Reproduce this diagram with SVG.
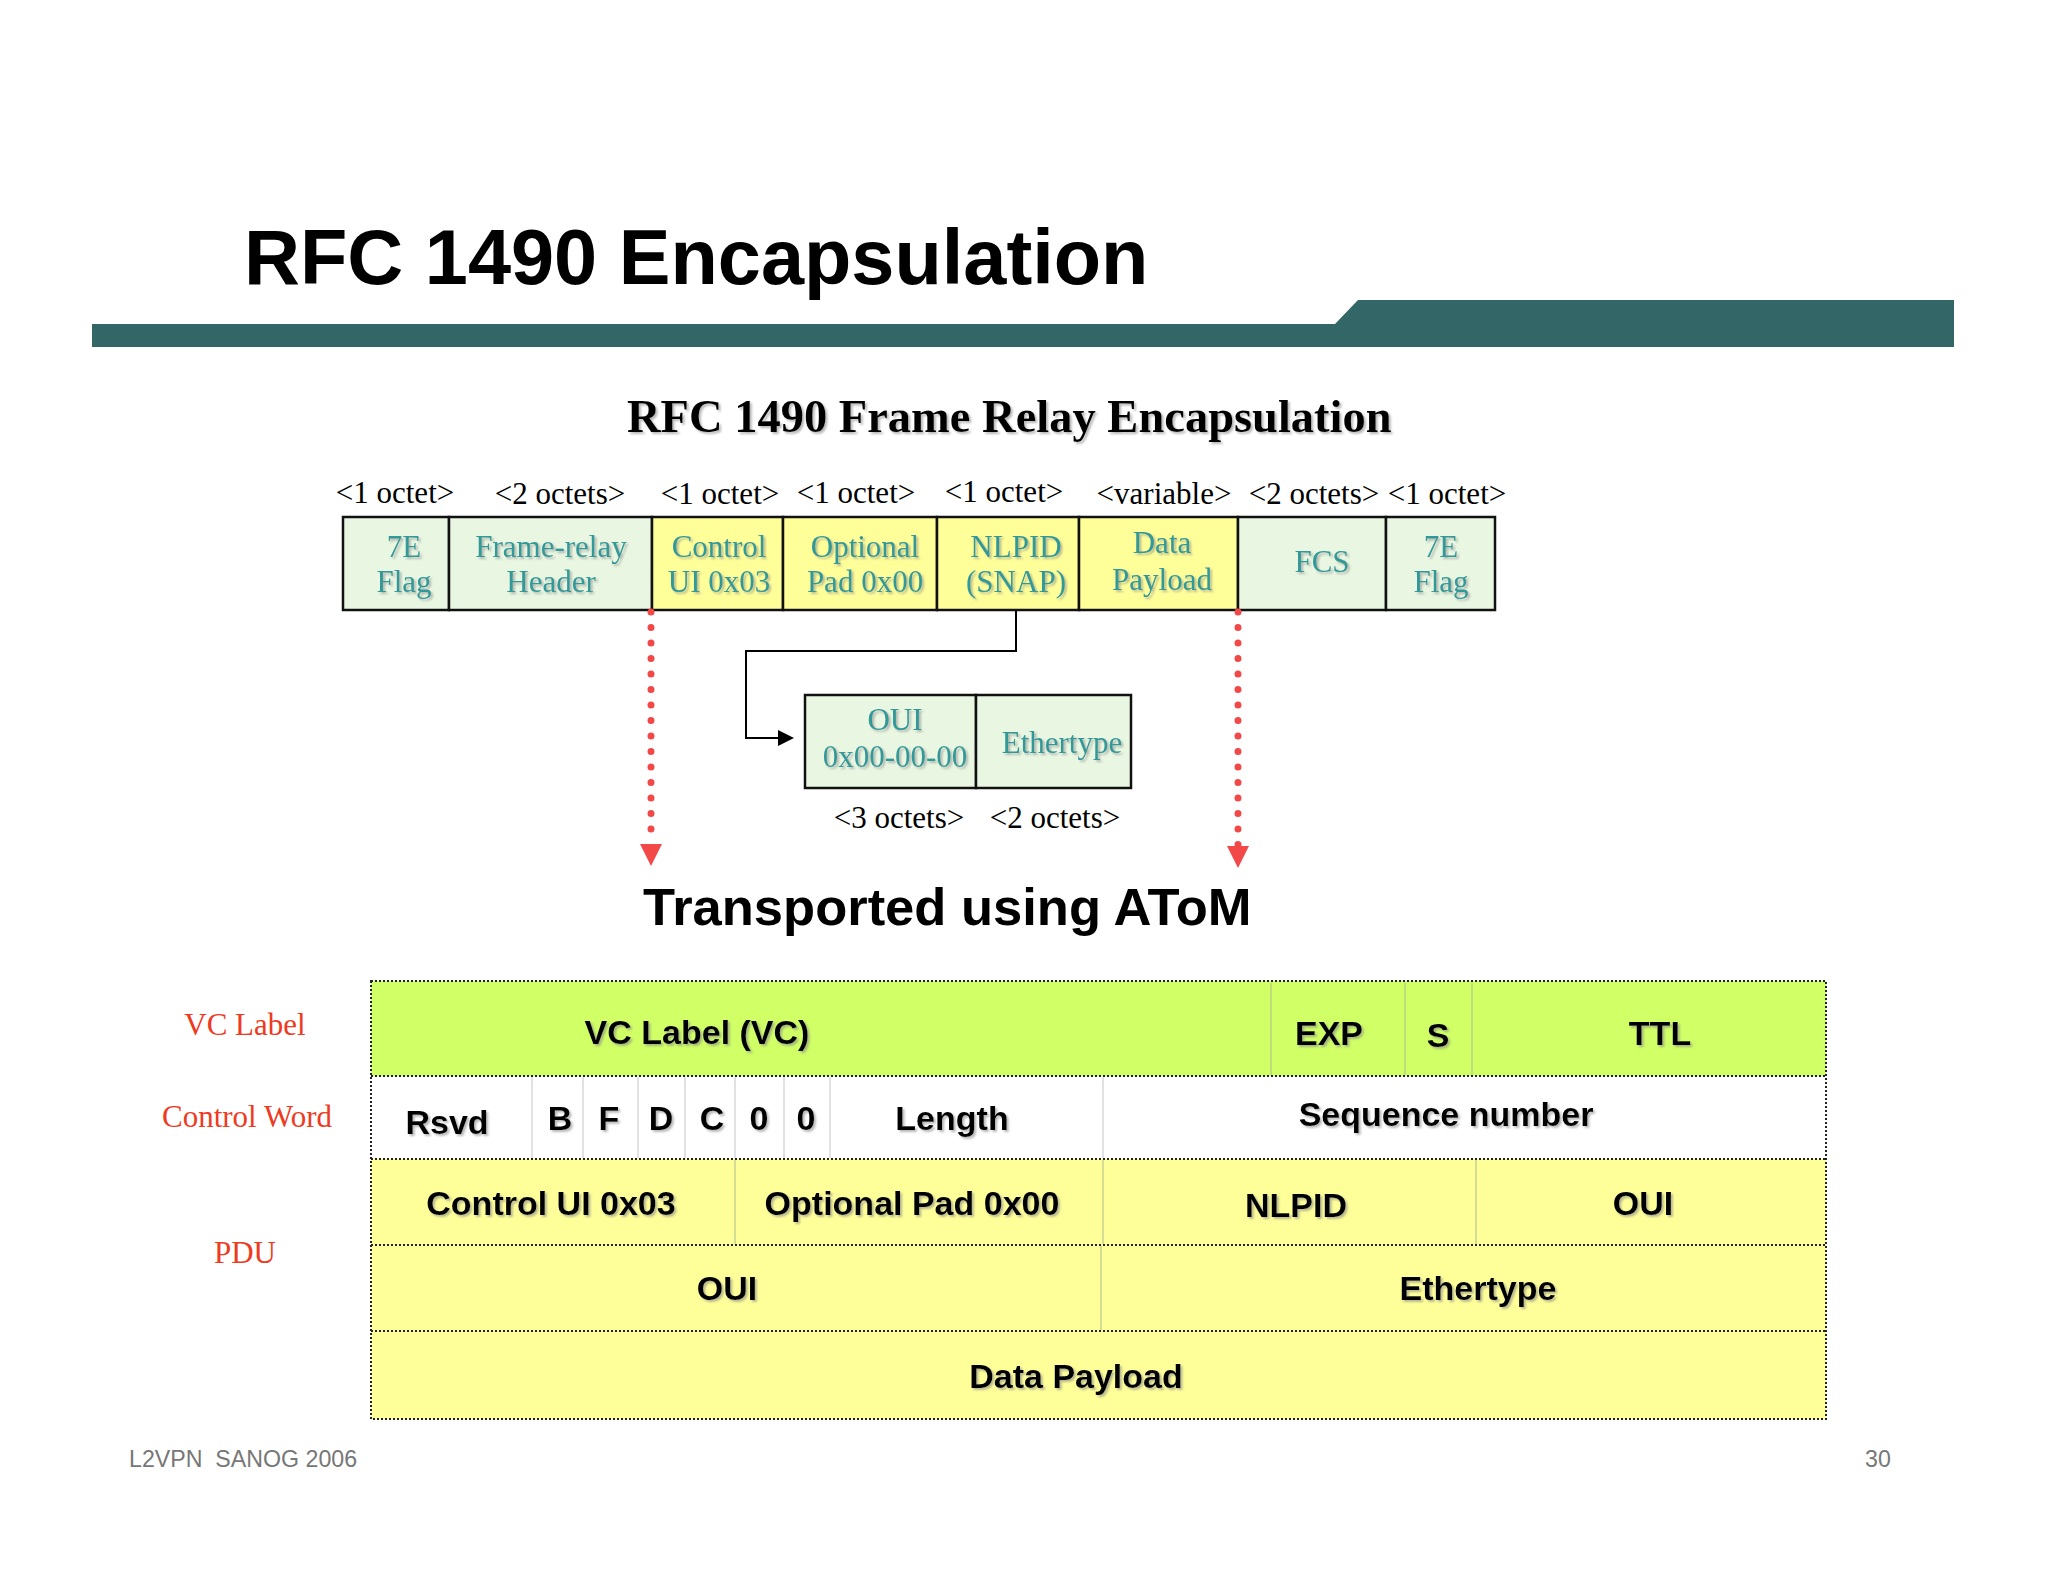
<svg xmlns="http://www.w3.org/2000/svg" width="2048" height="1582" viewBox="0 0 2048 1582">
<style>
.title{font-family:"Liberation Sans",Arial,sans-serif;font-weight:bold;font-size:77.5px;fill:#000}
.sub{font-family:"Liberation Serif","Times New Roman",serif;font-weight:bold;font-size:46.5px;fill:#000}
.oct{font-family:"Liberation Serif","Times New Roman",serif;font-size:31px;fill:#000;text-anchor:middle}
.cell{font-family:"Liberation Serif","Times New Roman",serif;font-size:31px;fill:#339999;text-anchor:middle}
.box{stroke:#111;stroke-width:2.5}
.green{fill:#e9f7e2}
.yellow{fill:#ffff99}
.lime{fill:#d0ff66}
.tbl{font-family:"Liberation Sans",Arial,sans-serif;font-weight:bold;font-size:34px;fill:#000;text-anchor:middle}
.side{font-family:"Liberation Serif","Times New Roman",serif;font-size:31px;fill:#ee3a1e;text-anchor:middle}
.big{font-family:"Liberation Sans",Arial,sans-serif;font-weight:bold;font-size:52.5px;fill:#000}
.foot{font-family:"Liberation Sans",Arial,sans-serif;font-size:23.2px;fill:#777;white-space:pre}
.rowb{stroke:#222;stroke-width:2;stroke-dasharray:2 2;fill:none}
.div1{stroke:#b8c890;stroke-width:1.2}
.div2{stroke:#cfcfcf;stroke-width:1.2}
.red{stroke:#f24848;stroke-width:7;stroke-linecap:round;stroke-dasharray:0 15.5;fill:none}
.conn{stroke:#000;stroke-width:2;fill:none}
</style>
<defs>
<filter id="sh" x="-10%" y="-20%" width="130%" height="150%">
<feDropShadow dx="2" dy="2" stdDeviation="0.8" flood-color="#888" flood-opacity="0.6"/>
</filter>
<marker id="redArrow" markerUnits="userSpaceOnUse" markerWidth="22" markerHeight="22" refX="0" refY="11" orient="auto">
<path d="M0,0 L22,11 L0,22 z" fill="#f24848"/>
</marker>
<marker id="blkArrow" markerUnits="userSpaceOnUse" markerWidth="16" markerHeight="16" refX="0" refY="8" orient="auto">
<path d="M0,0 L16,8 L0,16 z" fill="#000"/>
</marker>
</defs>
<rect width="2048" height="1582" fill="#ffffff"/>

<g id="header">
<text class="title" x="244" y="284">RFC 1490 Encapsulation</text>
<path d="M92,324 H1335 L1358,300 H1954 V347 H92 Z" fill="#336666"/>
</g>

<g id="subtitle">
<text class="sub" x="627" y="432" filter="url(#sh)">RFC 1490 Frame Relay Encapsulation</text>
</g>

<g id="octet-labels">
<text class="oct" x="395" y="503">&lt;1 octet&gt;</text>
<text class="oct" x="560" y="504">&lt;2 octets&gt;</text>
<text class="oct" x="720" y="504">&lt;1 octet&gt;</text>
<text class="oct" x="856" y="503">&lt;1 octet&gt;</text>
<text class="oct" x="1004" y="502">&lt;1 octet&gt;</text>
<text class="oct" x="1164" y="504">&lt;variable&gt;</text>
<text class="oct" x="1314" y="504">&lt;2 octets&gt;</text>
<text class="oct" x="1447" y="504">&lt;1 octet&gt;</text>
</g>

<g id="fr-flag1">
<rect class="box green" x="343" y="517" width="106" height="93"/>
<text class="cell" x="404" y="557" filter="url(#sh)">7E</text>
<text class="cell" x="404" y="592" filter="url(#sh)">Flag</text>
</g>
<g id="fr-header">
<rect class="box green" x="449" y="517" width="203" height="93"/>
<text class="cell" x="551" y="557" filter="url(#sh)">Frame-relay</text>
<text class="cell" x="551" y="592" filter="url(#sh)">Header</text>
</g>
<g id="fr-control">
<rect class="box yellow" x="652" y="517" width="131" height="93"/>
<text class="cell" x="719" y="557" filter="url(#sh)">Control</text>
<text class="cell" x="719" y="592" filter="url(#sh)">UI 0x03</text>
</g>
<g id="fr-pad">
<rect class="box yellow" x="783" y="517" width="154" height="93"/>
<text class="cell" x="865" y="557" filter="url(#sh)">Optional</text>
<text class="cell" x="865" y="592" filter="url(#sh)">Pad 0x00</text>
</g>
<g id="fr-nlpid">
<rect class="box yellow" x="937" y="517" width="142" height="93"/>
<text class="cell" x="1016" y="557" filter="url(#sh)">NLPID</text>
<text class="cell" x="1016" y="592" filter="url(#sh)">(SNAP)</text>
</g>
<g id="fr-payload">
<rect class="box yellow" x="1079" y="517" width="159" height="93"/>
<text class="cell" x="1162" y="553" filter="url(#sh)">Data</text>
<text class="cell" x="1162" y="590" filter="url(#sh)">Payload</text>
</g>
<g id="fr-fcs">
<rect class="box green" x="1238" y="517" width="148" height="93"/>
<text class="cell" x="1322" y="572" filter="url(#sh)">FCS</text>
</g>
<g id="fr-flag2">
<rect class="box green" x="1386" y="517" width="109" height="93"/>
<text class="cell" x="1441" y="557" filter="url(#sh)">7E</text>
<text class="cell" x="1441" y="592" filter="url(#sh)">Flag</text>
</g>

<g id="snap-oui">
<rect class="box green" x="805" y="695" width="171" height="93"/>
<text class="cell" x="895" y="730" filter="url(#sh)">OUI</text>
<text class="cell" x="895" y="767" filter="url(#sh)">0x00-00-00</text>
</g>
<g id="snap-ethertype">
<rect class="box green" x="976" y="695" width="155" height="93"/>
<text class="cell" x="1062" y="753" filter="url(#sh)">Ethertype</text>
</g>
<g id="snap-labels">
<text class="oct" x="899" y="828">&lt;3 octets&gt;</text>
<text class="oct" x="1055" y="828">&lt;2 octets&gt;</text>
</g>

<g id="connectors">
<path class="red" d="M651,612 V843"/>
<path d="M651,843 V844" stroke="none" fill="none" marker-end="url(#redArrow)"/>
<path class="red" d="M1238,612 V845"/>
<path d="M1238,845 V846" stroke="none" fill="none" marker-end="url(#redArrow)"/>
<path class="conn" d="M1016,610 V651 H746 V738 H778" marker-end="url(#blkArrow)"/>
</g>

<g id="transported">
<text class="big" x="643" y="925">Transported using AToM</text>
</g>

<g id="side-labels">
<text class="side" x="245" y="1035">VC Label</text>
<text class="side" x="247" y="1127">Control Word</text>
<text class="side" x="245" y="1263">PDU</text>
</g>

<g id="row-vc-label">
<rect class="lime" x="371" y="981" width="1455" height="95"/>
<line class="div1" x1="1271" y1="983" x2="1271" y2="1075"/>
<line class="div1" x1="1405" y1="983" x2="1405" y2="1075"/>
<line class="div1" x1="1472" y1="983" x2="1472" y2="1075"/>
<text class="tbl" x="697" y="1044" filter="url(#sh)">VC Label (VC)</text>
<text class="tbl" x="1329" y="1045" filter="url(#sh)">EXP</text>
<text class="tbl" x="1438" y="1047" filter="url(#sh)">S</text>
<text class="tbl" x="1660" y="1045" filter="url(#sh)">TTL</text>
</g>

<g id="row-control-word">
<rect x="371" y="1076" width="1455" height="83" fill="#ffffff"/>
<line class="div2" x1="532" y1="1077" x2="532" y2="1158"/>
<line class="div2" x1="583" y1="1077" x2="583" y2="1158"/>
<line class="div2" x1="638" y1="1077" x2="638" y2="1158"/>
<line class="div2" x1="685" y1="1077" x2="685" y2="1158"/>
<line class="div2" x1="735" y1="1077" x2="735" y2="1158"/>
<line class="div2" x1="784" y1="1077" x2="784" y2="1158"/>
<line class="div2" x1="830" y1="1077" x2="830" y2="1158"/>
<line class="div2" x1="1103" y1="1077" x2="1103" y2="1158"/>
<text class="tbl" x="447" y="1134" filter="url(#sh)">Rsvd</text>
<text class="tbl" x="560" y="1130" filter="url(#sh)">B</text>
<text class="tbl" x="609" y="1130" filter="url(#sh)">F</text>
<text class="tbl" x="661" y="1130" filter="url(#sh)">D</text>
<text class="tbl" x="712" y="1130" filter="url(#sh)">C</text>
<text class="tbl" x="759" y="1130" filter="url(#sh)">0</text>
<text class="tbl" x="806" y="1130" filter="url(#sh)">0</text>
<text class="tbl" x="952" y="1130" filter="url(#sh)">Length</text>
<text class="tbl" x="1446" y="1126" filter="url(#sh)">Sequence number</text>
</g>

<g id="row-pdu-1">
<rect class="yellow" x="371" y="1159" width="1455" height="86"/>
<line class="div1" x1="735" y1="1160" x2="735" y2="1244"/>
<line class="div1" x1="1103" y1="1160" x2="1103" y2="1244"/>
<line class="div1" x1="1476" y1="1160" x2="1476" y2="1244"/>
<text class="tbl" x="551" y="1215" filter="url(#sh)">Control UI 0x03</text>
<text class="tbl" x="912" y="1215" filter="url(#sh)">Optional Pad 0x00</text>
<text class="tbl" x="1296" y="1217" filter="url(#sh)">NLPID</text>
<text class="tbl" x="1643" y="1215" filter="url(#sh)">OUI</text>
</g>

<g id="row-pdu-2">
<rect class="yellow" x="371" y="1245" width="1455" height="86"/>
<line class="div1" x1="1101" y1="1246" x2="1101" y2="1330"/>
<text class="tbl" x="727" y="1300" filter="url(#sh)">OUI</text>
<text class="tbl" x="1478" y="1300" filter="url(#sh)">Ethertype</text>
</g>

<g id="row-pdu-3">
<rect class="yellow" x="371" y="1331" width="1455" height="88"/>
<text class="tbl" x="1076" y="1388" filter="url(#sh)">Data Payload</text>
</g>

<g id="table-borders">
<rect class="rowb" x="371" y="981" width="1455" height="438"/>
<line class="rowb" x1="371" y1="1076" x2="1826" y2="1076"/>
<line class="rowb" x1="371" y1="1159" x2="1826" y2="1159"/>
<line class="rowb" x1="371" y1="1245" x2="1826" y2="1245"/>
<line class="rowb" x1="371" y1="1331" x2="1826" y2="1331"/>
</g>

<g id="footer">
<text class="foot" x="129" y="1467" xml:space="preserve">L2VPN  SANOG 2006</text>
<text class="foot" x="1865" y="1467">30</text>
</g>
</svg>
